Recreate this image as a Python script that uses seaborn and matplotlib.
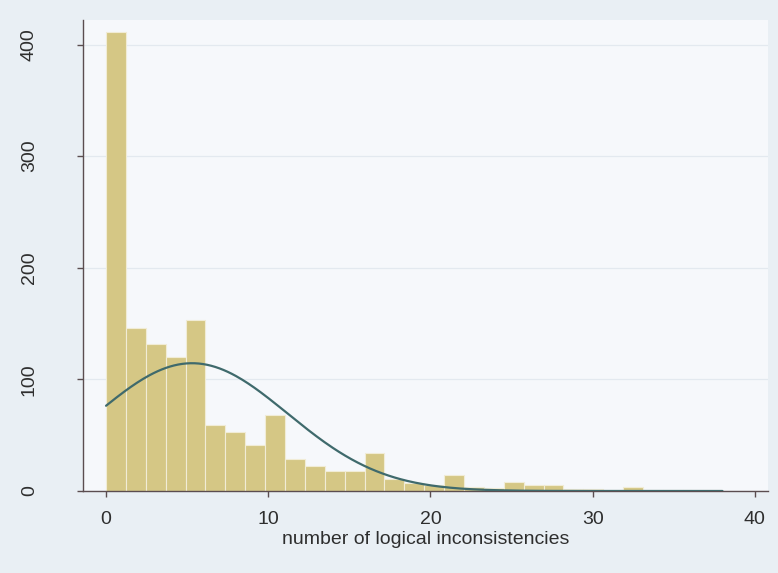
import numpy as np
import pandas as pd
import matplotlib
matplotlib.use("Agg")
import matplotlib.pyplot as plt
import seaborn as sns

# Frequency of each histogram bin (31 equal-width bins spanning 0..38)
bin_counts = [411, 146, 132, 120, 153, 59, 53, 41, 68, 29,
              22, 18, 18, 34, 11, 7, 5, 14, 4, 3,
              8, 5, 5, 2, 2, 1, 4, 1, 1, 1, 1]
data_min, data_max = 0, 38
# Parameters of the overlaid normal density
fit_mean = 5.3
fit_sd = 5.89

x_ticks = [0, 10, 20, 30, 40]
y_ticks = [0, 100, 200, 300, 400]
x_label = "number of logical inconsistencies"

n_bins = len(bin_counts)
edges = np.linspace(data_min, data_max, n_bins + 1)
width = edges[1] - edges[0]
centers = (edges[:-1] + edges[1:]) / 2
df = pd.DataFrame({"value": centers, "count": bin_counts})

sns.set_style("white")
plt.rcParams["font.family"] = ["Liberation Sans", "DejaVu Sans"]

outer_bg = "#e9eff4"
plot_bg = "#f6f8fb"
bar_col = "#d5c785"
curve_col = "#3f6a6c"
axis_col = "#5b4d50"
text_col = "#2e2e2e"
fs = 14

fig = plt.figure(figsize=(7.78, 5.73), dpi=100, facecolor=outer_bg)
ax = fig.add_axes([0.1067, 0.1431, 0.8803, 0.822])
ax.set_facecolor(plot_bg)

sns.histplot(data=df, x="value", weights="count", bins=n_bins,
             binrange=(data_min, data_max), ax=ax,
             color=bar_col, alpha=1.0, edgecolor="#f1ecd6", linewidth=0.8,
             zorder=2)

# Normal density scaled to frequencies
n_total = sum(bin_counts)
xs = np.linspace(data_min, data_max, 300)
ys = n_total * width / (fit_sd * np.sqrt(2 * np.pi)) * np.exp(-0.5 * ((xs - fit_mean) / fit_sd) ** 2)
sns.lineplot(x=xs, y=ys, ax=ax, color=curve_col, linewidth=1.6, zorder=3)

ax.set_xlim(-1.42, 40.8)
ax.set_ylim(0, 422)
ax.set_xticks(x_ticks)
ax.set_yticks(y_ticks)
ax.set_xticklabels([str(t) for t in x_ticks], fontsize=fs, color=text_col)
ax.set_yticklabels([str(t) for t in y_ticks], fontsize=fs, color=text_col,
                   rotation=90, va="center")
ax.set_xlabel(x_label, fontsize=fs, color=text_col, labelpad=2)
ax.set_ylabel("")

ax.yaxis.grid(True, color="#e3e9ef", linewidth=0.9, zorder=0)
ax.set_axisbelow(True)

for side in ["top", "right"]:
    ax.spines[side].set_visible(False)
for side in ["left", "bottom"]:
    ax.spines[side].set_color(axis_col)
    ax.spines[side].set_linewidth(1.0)
ax.tick_params(axis="both", which="both", direction="out", length=4.5,
               width=1.0, color=axis_col, left=True, bottom=True)
ax.tick_params(axis="x", pad=10)
ax.tick_params(axis="y", pad=28)

fig.savefig("out.png", dpi=100, facecolor=outer_bg)
